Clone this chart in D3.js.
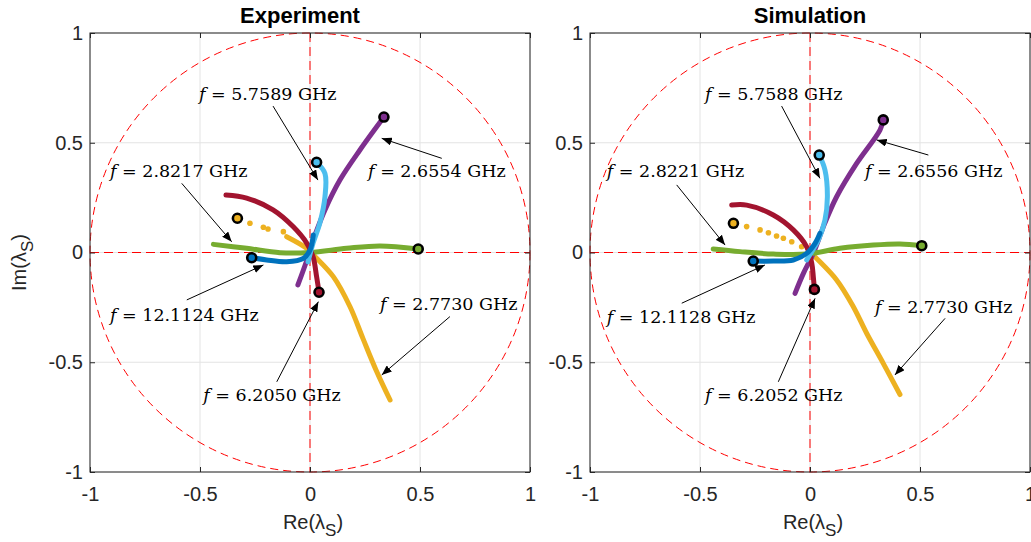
<!DOCTYPE html>
<html>
<head>
<meta charset="utf-8">
<script src="https://cdn.jsdelivr.net/npm/d3@7"></script>
<style>
  body { margin: 0; background: #fff; }
  svg { display: block; }
</style>
</head>
<body>
<svg id="chart" width="1031" height="542"></svg>
<script>
var ticks = [-1, -0.5, 0, 0.5, 1];

var colors = {
  purple: "#7E2F8E",
  lightBlue: "#4DBEEE",
  darkRed: "#A2142F",
  yellow: "#EDB120",
  green: "#77AC30",
  blue: "#0072BD"
};

// Experiment, points [Re, Im]; the first point carries the circle marker
// unless noted
var expPurple = [[0.336, 0.617], [0.227, 0.467], [0.136, 0.33], [0.068, 0.194], [0.023, 0.08], [-0.014, -0.034], [-0.055, -0.148]];
var expLightBlue = [[0.03, 0.411], [0.068, 0.36], [0.068, 0.254], [0.045, 0.135], [0.014, 0.043], [-0.009, -0.043]];
var expDarkRed = [[0.041, -0.181], [0.03, -0.11], [0.014, -0.019], [-0.015, 0.043], [-0.077, 0.118], [-0.168, 0.194], [-0.288, 0.248], [-0.382, 0.262]];
var expYellowDots = [[-0.273, 0.133], [-0.212, 0.115], [-0.191, 0.107], [-0.121, 0.095]];
var expYellow = [[-0.106, 0.072], [-0.015, 0.019], [0.023, -0.019], [0.106, -0.11], [0.182, -0.247], [0.24, -0.39], [0.3, -0.535], [0.364, -0.672]];
var expYellowMark = [-0.33, 0.156];
var expGreen = [[0.492, 0.016], [0.318, 0.03], [0.167, 0.019], [0, 0], [-0.136, -0.001], [-0.288, 0.019], [-0.439, 0.037]];
var expBlue = [[-0.265, -0.024], [-0.197, -0.034], [-0.106, -0.042], [-0.03, -0.027], [0, 0.011], [0.015, 0.08]];

// Simulation
var simPurple = [[0.333, 0.604], [0.318, 0.558], [0.212, 0.406], [0.121, 0.254], [0.061, 0.118], [0.015, -0.004], [-0.03, -0.095], [-0.068, -0.186]];
var simLightBlue = [[0.042, 0.444], [0.068, 0.376], [0.079, 0.254], [0.068, 0.148], [0.038, 0.057], [0.008, 0.004], [-0.015, -0.034]];
var simDarkRed = [[0.02, -0.168], [0.015, -0.11], [0.008, -0.049], [-0.015, 0.026], [-0.076, 0.103], [-0.167, 0.171], [-0.288, 0.216], [-0.356, 0.216]];
var simYellowDots = [[-0.288, 0.118], [-0.227, 0.103], [-0.189, 0.09], [-0.152, 0.075], [-0.121, 0.065], [-0.083, 0.049], [-0.038, 0.026]];
var simYellow = [[0.008, -0.004], [0.023, -0.02], [0.121, -0.125], [0.197, -0.247], [0.258, -0.369], [0.333, -0.505], [0.409, -0.647]];
var simYellowMark = [-0.348, 0.133];
var simGreen = [[0.508, 0.031], [0.409, 0.039], [0.288, 0.034], [0.136, 0.019], [-0.015, -0.007], [-0.167, -0.007], [-0.318, 0.004], [-0.44, 0.016]];
var simBlue = [[-0.258, -0.039], [-0.167, -0.039], [-0.076, -0.034], [-0.015, -0.004], [0.023, 0.042], [0.045, 0.087]];

// frequency labels (GHz)
var expFreqs = ["5.7589", "2.6554", "2.8217", "12.1124", "6.2050", "2.7730"];
var simFreqs = ["5.7588", "2.6556", "2.8221", "12.1128", "6.2052", "2.7730"];

// annotation anchors in data units: text start, arrow tail, arrow head
var expNotes = [
  [[-0.505, 0.695], [-0.168, 0.667], [0.036, 0.33]],
  [[0.264, 0.346], [0.599, 0.429], [0.326, 0.52]],
  [[-0.909, 0.344], [-0.583, 0.315], [-0.356, 0.049]],
  [[-0.909, -0.311], [-0.56, -0.216], [-0.212, -0.057]],
  [[-0.485, -0.675], [-0.151, -0.589], [0.038, -0.224]],
  [[0.318, -0.262], [0.636, -0.292], [0.326, -0.558]]
];
var simNotes = [
  [[-0.477, 0.695], [-0.129, 0.667], [0.045, 0.338]],
  [[0.25, 0.344], [0.538, 0.444], [0.303, 0.513]],
  [[-0.924, 0.344], [-0.606, 0.308], [-0.386, 0.034]],
  [[-0.924, -0.32], [-0.583, -0.231], [-0.205, -0.057]],
  [[-0.477, -0.675], [-0.144, -0.589], [0.023, -0.209]],
  [[0.295, -0.274], [0.614, -0.3], [0.386, -0.558]]
];

var panels = [
  {
    title: "Experiment", left: 90, titleX: 300, ylabel: true,
    lines: [
      [expYellow, colors.yellow], [expPurple, colors.purple], [expGreen, colors.green],
      [expDarkRed, colors.darkRed], [expLightBlue, colors.lightBlue], [expBlue, colors.blue]
    ],
    dots: expYellowDots,
    marks: [
      [expPurple[0], colors.purple], [expLightBlue[0], colors.lightBlue], [expDarkRed[0], colors.darkRed],
      [expYellowMark, colors.yellow], [expGreen[0], colors.green], [expBlue[0], colors.blue]
    ],
    freqs: expFreqs, notes: expNotes
  },
  {
    title: "Simulation", left: 590, titleX: 810, ylabel: false,
    lines: [
      [simYellow, colors.yellow], [simPurple, colors.purple], [simGreen, colors.green],
      [simDarkRed, colors.darkRed], [simLightBlue, colors.lightBlue], [simBlue, colors.blue]
    ],
    dots: simYellowDots,
    marks: [
      [simPurple[0], colors.purple], [simLightBlue[0], colors.lightBlue], [simDarkRed[0], colors.darkRed],
      [simYellowMark, colors.yellow], [simGreen[0], colors.green], [simBlue[0], colors.blue]
    ],
    freqs: simFreqs, notes: simNotes
  }
];

var svg = d3.select("#chart");
var size = 440, plotTop = 33, plotBottom = 472;
var sansFont = "'Liberation Sans', Arial, sans-serif";
var serifFont = "'DejaVu Serif', serif";

svg.append("defs").append("marker")
  .attr("id", "arrow")
  .attr("markerUnits", "userSpaceOnUse")
  .attr("markerWidth", 11).attr("markerHeight", 8)
  .attr("refX", 10).attr("refY", 4)
  .attr("orient", "auto")
  .append("path")
  .attr("d", "M0,0L10,4L0,8Z")
  .attr("fill", "#000");

panels.forEach(function(p) {
  var x = d3.scaleLinear().domain([-1, 1]).range([p.left, p.left + size]);
  var y = d3.scaleLinear().domain([-1, 1]).range([plotBottom, plotTop]);
  var g = svg.append("g");

  // grid
  g.selectAll(".gx").data(ticks).enter().append("line")
    .attr("x1", function(d) { return x(d); }).attr("x2", function(d) { return x(d); })
    .attr("y1", plotTop).attr("y2", plotBottom)
    .attr("stroke", "#e3e3e3").attr("stroke-width", 1);
  g.selectAll(".gy").data(ticks).enter().append("line")
    .attr("y1", function(d) { return y(d); }).attr("y2", function(d) { return y(d); })
    .attr("x1", p.left).attr("x2", p.left + size)
    .attr("stroke", "#e3e3e3").attr("stroke-width", 1);

  // red dashed guides
  g.append("ellipse")
    .attr("cx", x(0)).attr("cy", y(0))
    .attr("rx", x(1) - x(0)).attr("ry", y(0) - y(1))
    .attr("fill", "none").attr("stroke", "#ff0000").attr("stroke-width", 1)
    .attr("stroke-dasharray", "8,5");
  g.append("line")
    .attr("x1", x(0)).attr("x2", x(0)).attr("y1", plotTop).attr("y2", plotBottom)
    .attr("stroke", "#ff0000").attr("stroke-width", 1).attr("stroke-dasharray", "9,5");
  g.append("line")
    .attr("x1", p.left).attr("x2", p.left + size).attr("y1", y(0)).attr("y2", y(0))
    .attr("stroke", "#ff0000").attr("stroke-width", 1).attr("stroke-dasharray", "9,5");

  // trajectories
  var line = d3.line()
    .x(function(d) { return x(d[0]); })
    .y(function(d) { return y(d[1]); })
    .curve(d3.curveCatmullRom.alpha(0.5));

  g.selectAll(".dot").data(p.dots).enter().append("circle")
    .attr("cx", function(d) { return x(d[0]); })
    .attr("cy", function(d) { return y(d[1]); })
    .attr("r", 2.8)
    .attr("fill", colors.yellow);

  p.lines.forEach(function(l) {
    g.append("path")
      .attr("d", line(l[0]))
      .attr("fill", "none")
      .attr("stroke", l[1])
      .attr("stroke-width", 5)
      .attr("stroke-linecap", "round")
      .attr("stroke-linejoin", "round");
  });

  g.selectAll(".mark").data(p.marks).enter().append("circle")
    .attr("cx", function(d) { return x(d[0][0]); })
    .attr("cy", function(d) { return y(d[0][1]); })
    .attr("r", 4.5)
    .attr("fill", function(d) { return d[1]; })
    .attr("stroke", "#000")
    .attr("stroke-width", 2.6);

  // axes with inward ticks
  var fmt = function(d) { return String(d); };
  var xa = g.append("g").attr("transform", "translate(0," + plotBottom + ")")
    .call(d3.axisBottom(x).tickValues(ticks).tickSize(-5).tickPadding(15).tickFormat(fmt));
  var ya = g.append("g").attr("transform", "translate(" + p.left + ",0)")
    .call(d3.axisLeft(y).tickValues(ticks).tickSize(-5).tickPadding(7).tickFormat(fmt));
  var xt = g.append("g").attr("transform", "translate(0," + plotTop + ")")
    .call(d3.axisTop(x).tickValues(ticks).tickSize(-5).tickFormat(""));
  var yr = g.append("g").attr("transform", "translate(" + (p.left + size) + ",0)")
    .call(d3.axisRight(y).tickValues(ticks).tickSize(-5).tickFormat(""));
  [xa, ya, xt, yr].forEach(function(a) {
    a.select(".domain").remove();
    a.selectAll("line").attr("stroke", "#262626");
    a.selectAll("text")
      .attr("fill", "#262626")
      .style("font-family", sansFont)
      .style("font-size", "20px");
  });
  g.append("rect")
    .attr("x", p.left).attr("y", plotTop)
    .attr("width", size).attr("height", plotBottom - plotTop)
    .attr("fill", "none").attr("stroke", "#262626").attr("stroke-width", 1);

  // annotations
  p.notes.forEach(function(n, i) {
    g.append("line")
      .attr("x1", x(n[1][0])).attr("y1", y(n[1][1]))
      .attr("x2", x(n[2][0])).attr("y2", y(n[2][1]))
      .attr("stroke", "#000").attr("stroke-width", 1)
      .attr("marker-end", "url(#arrow)");
    var t = g.append("text")
      .attr("x", x(n[0][0])).attr("y", y(n[0][1]))
      .style("font-family", serifFont)
      .style("font-size", "17.5px")
      .attr("fill", "#000");
    t.append("tspan").style("font-style", "italic").text("f");
    t.append("tspan").text(" = " + p.freqs[i] + " GHz");
  });

  // title and labels
  svg.append("text")
    .attr("x", p.titleX).attr("y", 23)
    .attr("text-anchor", "middle")
    .style("font-family", sansFont).style("font-size", "22px").style("font-weight", "bold")
    .text(p.title);

  var xl = svg.append("text")
    .attr("x", x(0) + 3).attr("y", 529)
    .attr("text-anchor", "middle")
    .attr("fill", "#262626")
    .style("font-family", sansFont).style("font-size", "20px");
  xl.append("tspan").text("Re(\u03bb");
  xl.append("tspan").attr("dy", 7).style("font-size", "17px").text("S");
  xl.append("tspan").attr("dy", -7).text(")");

  if (p.ylabel) {
    var yl = svg.append("text")
      .attr("transform", "translate(25.5," + (y(0) + 10) + ") rotate(-90)")
      .attr("text-anchor", "middle")
      .attr("fill", "#262626")
      .style("font-family", sansFont).style("font-size", "20px");
    yl.append("tspan").text("Im(\u03bb");
    yl.append("tspan").attr("dy", 7).style("font-size", "17px").text("S");
    yl.append("tspan").attr("dy", -7).text(")");
  }
});
</script>
</body>
</html>
